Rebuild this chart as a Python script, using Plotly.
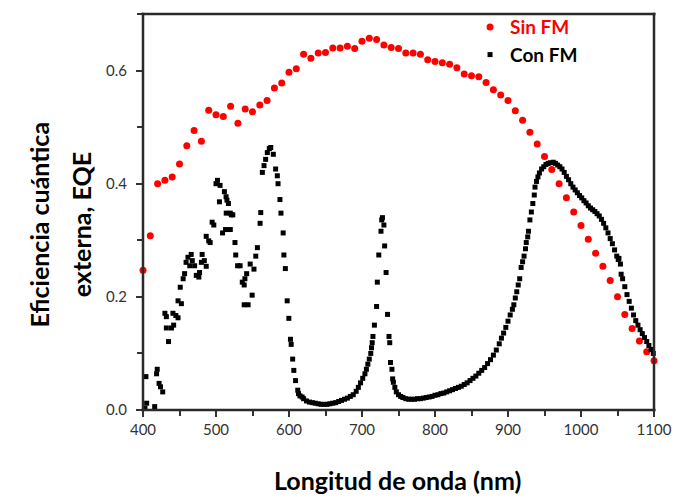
import plotly.graph_objects as go

# --- Sin FM (red dots) ---
sin_x = [400, 410, 420, 430, 440, 450, 460, 470, 480, 490, 500, 510, 520, 530, 540, 550, 560, 570,
         580, 590, 600, 610, 620, 630, 640, 650, 660, 670, 680, 690, 700, 710, 720, 730, 740, 750,
         760, 770, 780, 790, 800, 810, 820, 830, 840, 850, 860, 870, 880, 890, 900, 910, 920, 930,
         940, 950, 960, 970, 980, 990, 1000, 1010, 1020, 1030, 1040, 1050, 1060, 1070, 1080, 1090, 1100]
sin_y = [0.247, 0.308, 0.400, 0.406, 0.412, 0.435, 0.467, 0.494, 0.475, 0.530, 0.522, 0.519, 0.537,
         0.507, 0.532, 0.527, 0.539, 0.547, 0.569, 0.578, 0.597, 0.603, 0.629, 0.622, 0.631, 0.632,
         0.640, 0.640, 0.643, 0.639, 0.652, 0.657, 0.655, 0.645, 0.641, 0.639, 0.631, 0.631, 0.629,
         0.619, 0.616, 0.614, 0.611, 0.605, 0.594, 0.591, 0.589, 0.579, 0.566, 0.557, 0.547, 0.529,
         0.512, 0.491, 0.470, 0.448, 0.425, 0.400, 0.375, 0.350, 0.326, 0.302, 0.277, 0.254, 0.229,
         0.200, 0.169, 0.144, 0.122, 0.103, 0.087]

# --- Con FM (black squares) ---
con_x = [402.7, 404, 405, 416, 418.6, 419.5, 422, 424, 427, 430, 432, 432, 435, 439, 441, 442, 445,
         448, 448, 451, 452.6, 455, 457, 459, 461.6, 464, 466, 467.5, 470.7, 473, 476.5, 477.5, 480,
         481, 484, 486.6, 486.6, 490, 492, 494.7, 497, 500, 502, 504.7, 505.6, 509, 511.5, 513.8,
         515, 517, 514, 519.6, 521, 513, 519.6, 523, 526, 527, 529.6, 533, 536, 538.6, 539.6, 542,
         546.8, 552, 549.5, 538.6, 544, 554.5, 556.7, 560.4, 561.3, 563.5, 565.8, 568, 570.3, 573,
         575, 578.5, 581.7, 584, 585, 587.6, 589, 592, 593, 595, 597.5, 599.8, 602, 603, 605, 606.6,
         609, 612, 613, 615, 618,
         620, 624, 628, 632, 636, 640, 644, 648, 652, 656, 660, 664, 668, 672, 676, 680, 684, 688,
         692, 695, 698, 701, 704, 706, 708, 710, 712, 713, 714, 715, 717, 720, 721, 723, 726, 727,
         728, 730, 731, 733, 735, 737, 738, 739, 741, 742, 743, 745, 747, 750, 753, 756, 760, 764,
         768, 772, 776, 780, 784, 788, 792, 796, 800, 804, 808, 812, 816, 820, 824, 828, 832, 836,
         840, 844, 848, 852, 856, 860, 864, 868, 872, 876, 880, 884, 888, 891, 894, 897, 900, 903,
         906, 908, 910, 912, 914, 916, 918, 920, 922, 924, 925, 927, 928, 930, 932, 934, 936, 937,
         939, 941, 943, 946, 949, 952, 955, 958, 962, 965, 968, 971, 974, 977, 980, 983, 986, 989,
         992, 995, 998, 1001, 1004, 1007, 1010, 1013, 1016, 1019, 1022, 1025, 1028, 1031, 1034,
         1037, 1040, 1043, 1046, 1049, 1051, 1052, 1054, 1055, 1057, 1060, 1063, 1066, 1069, 1072,
         1075, 1078, 1081, 1084, 1087, 1090, 1093, 1096, 1099]
con_y = [0.003, 0.059, 0.012, 0.006, 0.064, 0.072, 0.047, 0.041, 0.032, 0.171, 0.165, 0.145, 0.121,
         0.145, 0.171, 0.150, 0.167, 0.163, 0.193, 0.217, 0.188, 0.232, 0.241, 0.261, 0.270, 0.255,
         0.275, 0.264, 0.255, 0.238, 0.235, 0.243, 0.261, 0.275, 0.264, 0.254, 0.307, 0.299, 0.296,
         0.332, 0.327, 0.400, 0.406, 0.368, 0.397, 0.313, 0.386, 0.377, 0.371, 0.365, 0.348, 0.348,
         0.345, 0.319, 0.319, 0.345, 0.296, 0.274, 0.255, 0.255, 0.226, 0.221, 0.232, 0.241, 0.258,
         0.249, 0.203, 0.186, 0.186, 0.272, 0.287, 0.330, 0.349, 0.420, 0.432, 0.443, 0.455, 0.462,
         0.464, 0.452, 0.426, 0.414, 0.400, 0.372, 0.348, 0.313, 0.274, 0.250, 0.193, 0.162, 0.125,
         0.116, 0.090, 0.070, 0.052, 0.035, 0.029, 0.025, 0.023,
         0.020, 0.016, 0.014, 0.013, 0.012, 0.011, 0.010, 0.010, 0.010, 0.011, 0.012, 0.013, 0.015,
         0.017, 0.019, 0.021, 0.024, 0.027, 0.033, 0.040, 0.048, 0.056, 0.064, 0.072, 0.081, 0.090,
         0.100, 0.110, 0.119, 0.130, 0.150, 0.183, 0.226, 0.274, 0.316, 0.336, 0.340, 0.327, 0.290,
         0.243, 0.169, 0.130, 0.119, 0.084, 0.072, 0.055, 0.049, 0.040, 0.032, 0.027, 0.024, 0.022,
         0.020, 0.019, 0.019, 0.019, 0.020, 0.020, 0.021, 0.022, 0.023, 0.024, 0.026, 0.027, 0.029,
         0.030, 0.032, 0.034, 0.036, 0.038, 0.040, 0.042, 0.045, 0.048, 0.052, 0.056, 0.060, 0.065,
         0.070, 0.075, 0.082, 0.089, 0.097, 0.106, 0.117, 0.127, 0.136, 0.146, 0.157, 0.168, 0.178,
         0.186, 0.198, 0.209, 0.221, 0.232, 0.252, 0.262, 0.272, 0.285, 0.296, 0.306, 0.316, 0.336,
         0.350, 0.365, 0.380, 0.394, 0.404, 0.412, 0.419, 0.426, 0.430, 0.434, 0.436, 0.437, 0.438,
         0.436, 0.433, 0.430, 0.426, 0.420, 0.413, 0.407, 0.400, 0.394, 0.389, 0.384, 0.379, 0.375,
         0.370, 0.366, 0.361, 0.357, 0.354, 0.351, 0.347, 0.343, 0.337, 0.330, 0.322, 0.313, 0.303,
         0.294, 0.283, 0.272, 0.266, 0.268, 0.258, 0.240, 0.232, 0.218, 0.204, 0.192, 0.180, 0.168,
         0.158, 0.150, 0.142, 0.135, 0.128, 0.121, 0.114, 0.107, 0.100]

x_ticks = [400, 500, 600, 700, 800, 900, 1000, 1100]
y_ticks = [0.0, 0.2, 0.4, 0.6]
y_ticklabels = ["0.0", "0.2", "0.4", "0.6"]

fig = go.Figure()
fig.add_trace(go.Scatter(
    x=sin_x, y=sin_y, mode="markers", cliponaxis=False,
    name='<span style="color:#ff0000"><b>Sin FM</b></span>',
    marker=dict(symbol="circle", size=7, color="#ff0000"),
))
fig.add_trace(go.Scatter(
    x=con_x, y=con_y, mode="markers", cliponaxis=False,
    name="<b>Con FM</b>",
    marker=dict(symbol="square", size=5, color="#000000"),
))

axis_common = dict(
    showline=False,
    ticks="outside", ticklen=6, tickwidth=1.5, tickcolor="#333333",
    showgrid=False, zeroline=False,
    tickfont=dict(family="Lato, Liberation Sans, sans-serif", size=15, color="#333333"),
)

fig.update_xaxes(range=[400, 1100], tickvals=x_ticks,
                 minor=dict(dtick=50, ticks="outside", ticklen=5, tickcolor="#333333"),
                 **axis_common)
fig.update_yaxes(range=[0, 0.7], tickvals=y_ticks, ticktext=y_ticklabels,
                 ticklabelstandoff=6,
                 minor=dict(dtick=0.1, ticks="outside", ticklen=5, tickcolor="#333333"),
                 **axis_common)

# plot frame, drawn edge by edge
frame = dict(color="#2a2a2a", width=2.5)
fig.add_shape(type="line", xref="paper", yref="paper", x0=0, x1=0, y0=-0.003, y1=1.003, line=frame, layer="above")
fig.add_shape(type="line", xref="paper", yref="paper", x0=-0.003, x1=1.003, y0=0, y1=0, line=frame, layer="above")
fig.add_shape(type="line", xref="paper", yref="paper", x0=1, x1=1, y0=-0.003, y1=1.003, line=frame, layer="above")
fig.add_shape(type="line", xref="paper", yref="paper", x0=-0.003, x1=1.003, y0=1, y1=1, line=frame, layer="above")

title_font = dict(family="Lato, Open Sans, sans-serif", size=25, color="#000000")
fig.add_annotation(text="<b>Longitud de onda (nm)</b>", xref="paper", yref="paper",
                   x=0.499, y=-0.178, showarrow=False, font=title_font,
                   xanchor="center", yanchor="middle")
fig.add_annotation(text="<b>Eficiencia cuántica</b>", xref="paper", yref="paper",
                   x=-0.204, y=0.468, showarrow=False, font=title_font, textangle=-90,
                   xanchor="center", yanchor="middle")
fig.add_annotation(text="<b>externa, EQE</b>", xref="paper", yref="paper",
                   x=-0.122, y=0.468, showarrow=False, font=title_font, textangle=-90,
                   xanchor="center", yanchor="middle")

fig.update_layout(
    width=680, height=500,
    margin=dict(l=143, r=22, t=8, b=90),
    paper_bgcolor="white", plot_bgcolor="white",
    showlegend=True,
    legend=dict(x=0.64, y=1.015, xanchor="left", yanchor="top",
                bgcolor="rgba(0,0,0,0)", borderwidth=0,
                font=dict(family="Lato, Open Sans, sans-serif", size=19, color="#000000"),
                itemsizing="trace", tracegroupgap=0, itemwidth=30),
)

fig.write_html("out.html")
